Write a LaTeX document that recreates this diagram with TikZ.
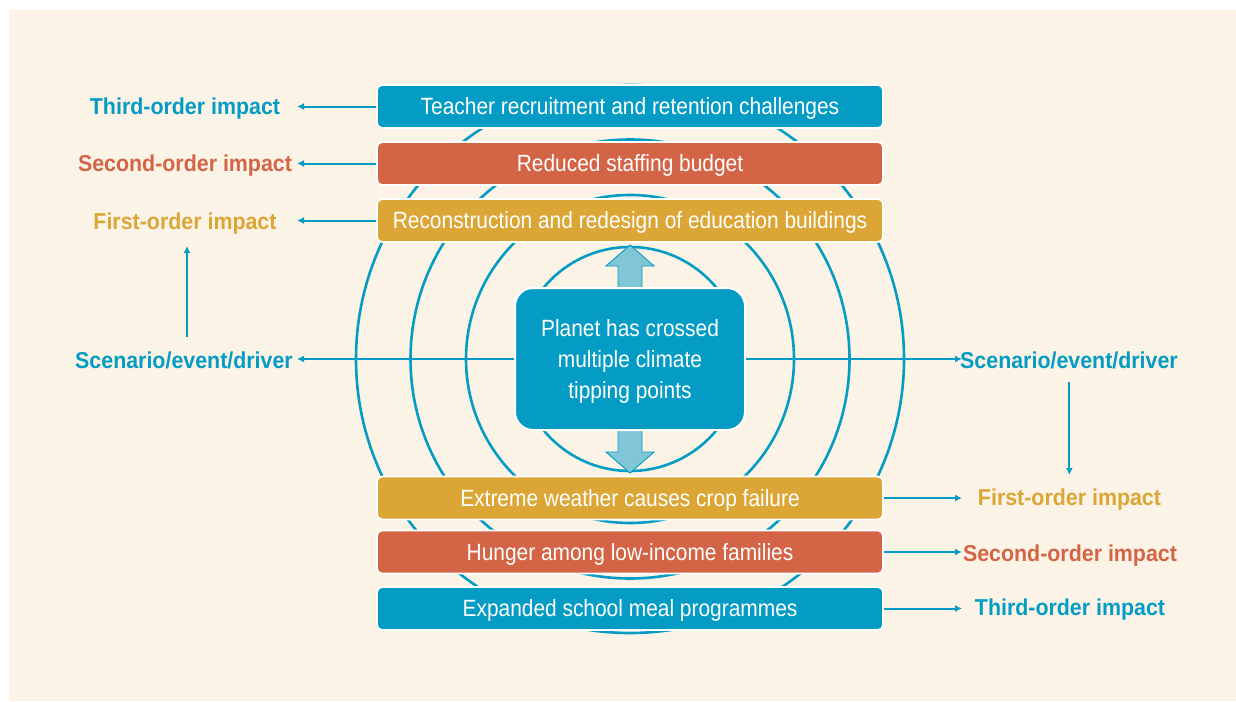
\documentclass[tikz,border=0pt]{standalone}
\usepackage{fontspec}
\usetikzlibrary{arrows.meta}
\newfontfamily\boxfont[FakeStretch=0.89]{Liberation Sans}
\newfontfamily\labfont[FakeStretch=0.93]{Liberation Sans Bold}
\definecolor{cream}{RGB}{250,243,230}
\definecolor{cblue}{RGB}{4,156,197}
\definecolor{cred}{RGB}{212,100,70}
\definecolor{cgold}{RGB}{220,166,55}
\definecolor{lblue}{RGB}{128,198,214}
\tikzset{
  ring/.style={draw=cblue, line width=2.6pt},
  hline/.style={draw=cblue, line width=2.6pt, -{Latex[length=7pt,width=7pt]}},
  conn/.style={draw=cblue, line width=2pt, -{Latex[length=7pt,width=7pt]}},
  impbox/.style={rounded corners=5pt, draw=white, line width=1.8pt, minimum width=506pt,
    minimum height=43pt, inner sep=0pt, text=white,
    font=\boxfont\fontsize{23.5}{28}\selectfont, text height=16.8pt, text depth=0pt},
  lab/.style={inner sep=0pt, font=\labfont\fontsize{23}{27}\selectfont,
    text height=16.5pt, text depth=0pt},
  blockarrow/.style={fill=lblue, draw=cblue, line width=0.9pt, line join=miter}
}
\begin{document}
\begin{tikzpicture}[x=1pt,y=-1pt]
\useasboundingbox (0,0) rectangle (1236,701);
\fill[cream] (9,10) rectangle (1236,701);
\coordinate (O) at (630,359);
\coordinate (tipL) at (297,0);
\coordinate (tipR) at (962,0);
% rings
\foreach \r in {112,164,219.5,274} {\draw[ring] (O) circle[radius=\r pt];}
% block arrows
\filldraw[blockarrow] (O) ++(-12,-60) -- ++(0,-33) -- ++(-12,0) -- ++(24,-21) -- ++(24,21) -- ++(-12,0) -- ++(0,33) -- cycle;
\filldraw[blockarrow] (O) ++(-12,60) -- ++(0,33) -- ++(-12,0) -- ++(24,21) -- ++(24,-21) -- ++(-12,0) -- ++(0,-33) -- cycle;
% centre box
\node[rounded corners=18pt, fill=cblue, draw=white, line width=2pt, minimum width=230pt,
  minimum height=142pt, inner sep=0pt, text=white, align=center,
  font=\boxfont\fontsize{23.5}{31}\selectfont] (cb) at (O)
  {\rule{0pt}{21pt}Planet has crossed\\multiple climate\\tipping points};
% horizontal lines
\draw[hline] (cb.west) -- (cb.west -| tipL);
\draw[hline] (cb.east) -- (cb.east -| tipR);
% impact boxes
\node[impbox, fill=cblue] (b3t) at (630,106.5) {Teacher recruitment and retention challenges};
\node[impbox, fill=cred]  (b2t) at (630,163.5) {Reduced staffing budget};
\node[impbox, fill=cgold] (b1t) at (630,220.5) {Reconstruction and redesign of education buildings};
\node[impbox, fill=cgold] (b1b) at (630,498) {Extreme weather causes crop failure};
\node[impbox, fill=cred]  (b2b) at (630,552) {Hunger among low-income families};
\node[impbox, fill=cblue] (b3b) at (630,608.5) {Expanded school meal programmes};
% labels left
\node[lab, text=cblue] (l3) at (185,106.5) {Third-order impact};
\node[lab, text=cred]  (l2) at (185,163.5) {Second-order impact};
\node[lab, text=cgold] (l1) at (185,221) {First-order impact};
\node[lab, text=cblue] (ls) at (184,360) {Scenario/event/driver};
% labels right
\node[lab, text=cblue] (rs) at (1069,360) {Scenario/event/driver};
\node[lab, text=cgold] (r1) at (1069.5,497) {First-order impact};
\node[lab, text=cred]  (r2) at (1070,553) {Second-order impact};
\node[lab, text=cblue] (r3) at (1070,607) {Third-order impact};
% connectors
\draw[conn] (b3t.west) -- (b3t.west -| tipL);
\draw[conn] (b2t.west) -- (b2t.west -| tipL);
\draw[conn] (b1t.west) -- (b1t.west -| tipL);
\draw[conn] (b1b.east) -- (b1b.east -| tipR);
\draw[conn] (b2b.east) -- (b2b.east -| tipR);
\draw[conn] (b3b.east) -- (b3b.east -| tipR);
\draw[conn, shorten <=14.5pt, shorten >=16.5pt] ([xshift=3pt]ls.north) -- ([xshift=2pt]l1.south);
\draw[conn, shorten <=13.5pt, shorten >=13.5pt] ([xshift=0.3pt]rs.south) -- ([xshift=-0.2pt]r1.north);
\end{tikzpicture}
\end{document}
